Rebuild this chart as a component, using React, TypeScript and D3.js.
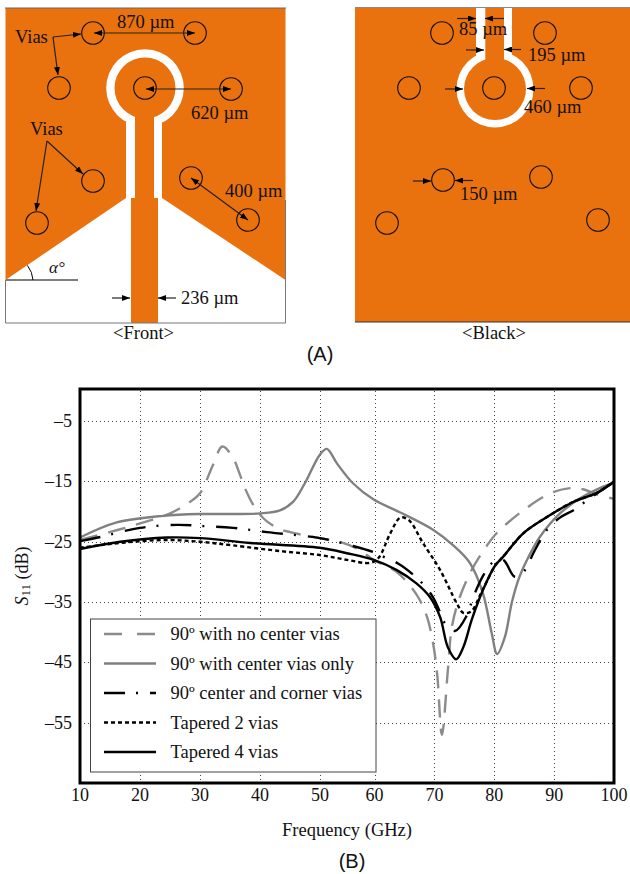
import React from "react";
import * as d3 from "d3";

const ORANGE = "#EA720E";
const SERIF = "'Liberation Serif', serif";
const SANS = "'Liberation Sans', sans-serif";

// ---- S11 data: [GHz, dB]
const noCenterVias: [number, number][] = [[10,-24.7],[15,-23.4],[20,-22],[25.2,-20.3],[28.5,-18.4],[30.2,-17],[32.4,-12.3],[34,-9.2],[35.8,-11.1],[37,-14],[37.8,-16.1],[39.2,-18.9],[40.9,-21.1],[43.2,-22.7],[45.4,-23.4],[50.4,-24.4],[53.8,-25],[57,-26.3],[59.5,-28],[63.4,-30],[65.1,-31.7],[67,-34.2],[68.5,-37.5],[69.5,-41.8],[70.2,-47],[71,-57],[72,-46.3],[72.7,-39],[74,-34.2],[76,-29.7],[78.6,-25.6],[80.4,-23.4],[84.7,-19.8],[89.2,-17],[92.6,-16.1],[94.8,-16.3],[97,-17.1],[100,-17.9]];
const centerViasOnly: [number, number][] = [[10,-24.3],[16.2,-21.8],[24,-20.7],[30.2,-20.4],[35.8,-20.4],[40.3,-20.3],[43.7,-19.8],[45.9,-18.4],[47.9,-15.3],[50.4,-10.6],[51.6,-9.6],[53.3,-12],[56,-15.3],[59.5,-18],[63.9,-20.1],[69.5,-23],[72.9,-25.6],[75.7,-28.5],[77.9,-33.5],[79.4,-40.2],[80.3,-43.6],[81.6,-40.8],[82.8,-35],[84,-31],[85.5,-27.7],[87.5,-24.2],[90.9,-20.3],[94.3,-17.8],[97.6,-16.1],[100,-15.3]];
const centerCornerVias: [number, number][] = [[10,-24.9],[13,-24.3],[20.1,-22.7],[26.3,-22.2],[30.8,-22.4],[35.8,-22.7],[41.5,-23.4],[50.4,-24.4],[56,-25.7],[59.4,-26.7],[61.4,-27.6],[63.6,-28.6],[66.1,-30.4],[67.8,-32],[69.5,-34.2],[70.7,-36.7],[71.5,-38.5],[73.2,-39.8],[75.2,-37.2],[76,-35],[76.9,-32.7],[78.2,-30.2],[79.6,-28.4],[81.3,-28],[83.3,-30.8],[85,-29.7],[86.4,-26.9],[88.7,-23],[90.9,-21],[93.1,-19.8],[95.1,-18.4],[97.1,-17],[100,-15.1]];
const tapered2: [number, number][] = [[10,-26],[14,-25.5],[19,-25],[24.7,-24.7],[30.2,-25],[35.8,-25.6],[44.2,-26.6],[50.4,-27.2],[55,-28],[58.9,-28.5],[60.3,-27.7],[62.3,-23.6],[64,-21],[65.4,-21.4],[67.8,-25.2],[70.7,-29.7],[73.5,-35.2],[74.6,-36.8],[76,-36.5],[77.4,-33.9],[78.5,-31.7],[80,-28.9],[81.3,-27.5],[84.7,-23.6],[88.7,-20.9],[93.1,-18.4],[97.1,-16.9],[100,-15]];
const tapered4: [number, number][] = [[10,-26.2],[16.8,-25],[24.7,-24.3],[30.2,-24.4],[38.7,-25.2],[50.4,-26],[55,-26.9],[59.5,-28],[63.4,-29.7],[66.7,-31.9],[69,-34.2],[70.7,-37.5],[72,-42.5],[73.4,-44.5],[74.6,-42.5],[76,-38],[77.4,-34.2],[78.5,-31.7],[80,-28.9],[81.3,-27.5],[84.7,-23.6],[88.7,-20.9],[93.1,-18.4],[97.1,-16.9],[100,-15]];

const seriesLabels = ["90º with no center vias","90º with center vias only","90º center and corner vias","Tapered 2 vias","Tapered 4 vias"];
const seriesValues = [noCenterVias, centerViasOnly, centerCornerVias, tapered2, tapered4];
const seriesColors = ["#8c8c8c","#808080","#000000","#000000","#000000"];
const seriesDash = ["18 11",undefined,"21 11 2 12","4 3",undefined];
const legendDash = ["18 15",undefined,"21 11 2 12","4 3",undefined];
const seriesDraw = [0,1,2,3,4];

const xTicks = [10,20,30,40,50,60,70,80,90,100];
const yTicks = [-5,-15,-25,-35,-45,-55];
const xGrid = [20,30,40,50,60,70,80,90];

// ---- Diagram contents
const frontVias = [[93,33],[195,33],[59,88],[145,88],[231,89],[93,181],[37,223],[191,178],[248,220]];
const backVias = [[442,33],[545,33],[409,88],[494,88],[581,88],[443,180],[541,177],[387,223],[598,220]];
const labels: [string, number, number][] = [
  ["870 µm",117,28],["Vias",15,43],["620 µm",191,119],["Vias",30,135],["400 µm",225,197],["236 µm",181,304],["<Front>",113,339],
  ["85 µm",459,35],["195 µm",528,61],["460 µm",524,113],["150 µm",460,200],["<Black>",462,339],
];
const oneWay = [[53,37,81,34],[53,37,58,75],[47,141,83,174],[47,141,36,211],[112,298,130,298],[176,298,158,298],
  [457,18.5,476,18.5],[504,18.5,485,18.5],[466,50,484,50],[521,49.5,504,49.5],[445,89,463,89],[545,88.5,527,88.5],[413,181,431,181],[473,180.5,455,180.5]];
const twoWay = [[94,33,195,33],[146,89,231,89],[191,178,248,220]];

export default function App() {
  const x = d3.scaleLinear().domain([10,100]).range([80,614]);
  const xAxis = d3.scaleLinear().domain([10,50,60,100]).range([80,320,374.5,614]);
  const y = d3.scaleLinear().domain([-65,0.33]).range([783,389]);
  const line = d3.line<[number,number]>().x(d=>x(d[0])).y(d=>y(d[1])).curve(d3.curveCatmullRom.alpha(0.5));

  return (
    <svg width={630} height={874} style={{position:"absolute",left:0,top:0}} fontFamily={SERIF} fill="#111">
      <defs>
        <marker id="arr" viewBox="0 0 8 6" refX="8" refY="3" markerWidth="8" markerHeight="6" markerUnits="userSpaceOnUse" orient="auto-start-reverse">
          <path d="M0,0L8,3L0,6Z" fill="#000"/>
        </marker>
      </defs>

      {/* Front */}
      <rect x={5.5} y={8} width={280} height={315} fill={ORANGE}/>
      <path d="M5.5,280L126,198L162,198L285.5,280L285.5,323L5.5,323Z" fill="#fff"/>
      <circle cx={145} cy={88} r={38.8} fill="#fff"/>
      <circle cx={145} cy={88} r={30.5} fill={ORANGE}/>
      <rect x={126} y={122} width={36} height={76} fill="#fff"/>
      <rect x={135} y={100} width={19} height={98} fill={ORANGE}/>
      <rect x={131} y={198} width={27} height={125} fill={ORANGE}/>
      <path d="M5.5,280V323H285.5V200" fill="none" stroke="#777" strokeWidth={1}/>
      <line x1={5} y1={8} x2={286} y2={8} stroke="#666" strokeWidth={1}/>
      <line x1={6} y1={280} x2={78} y2={280} stroke="#000" strokeWidth={1.2}/>
      <path d="M27.5,265.5A27,27 0 0 1 33,280" fill="none" stroke="#000" strokeWidth={1}/>
      <text x={49} y={273} fontSize={17} fontStyle="italic">α°</text>

      {/* Back */}
      <rect x={355} y={8} width={275} height={314} fill={ORANGE}/>
      <line x1={355} y1={322} x2={630} y2={322} stroke="#333" strokeWidth={1}/>
      <line x1={355} y1={7.5} x2={630} y2={7.5} stroke="#888" strokeWidth={1}/>
      <circle cx={495} cy={89} r={38.5} fill="#fff"/>
      <circle cx={495} cy={89} r={31} fill={ORANGE}/>
      <rect x={476} y={8} width={36} height={50} fill="#fff"/>
      <rect x={485.3} y={8} width={18.7} height={65} fill={ORANGE}/>

      {[...frontVias,...backVias].map(([cx,cy],i)=>(
        <circle key={i} cx={cx} cy={cy} r={11.3} fill="none" stroke="#111" strokeWidth={1.1}/>
      ))}
      {oneWay.map(([a,b,c,d],i)=>(
        <line key={i} x1={a} y1={b} x2={c} y2={d} stroke="#222" strokeWidth={1.2} markerEnd="url(#arr)"/>
      ))}
      {twoWay.map(([a,b,c,d],i)=>(
        <line key={i} x1={a} y1={b} x2={c} y2={d} stroke="#222" strokeWidth={1.2} markerEnd="url(#arr)" markerStart="url(#arr)"/>
      ))}
      {labels.map(([t,a,b],i)=>(
        <text key={i} x={a} y={b} fontSize={18.5}>{t}</text>
      ))}
      <text x={320} y={361} fontSize={20} fontFamily={SANS} textAnchor="middle">(A)</text>

      {/* Chart */}
      {xGrid.map(t=>(
        <line key={t} x1={Math.round(xAxis(t))+0.5} x2={Math.round(xAxis(t))+0.5} y1={391} y2={782} stroke="#444" strokeWidth={1} strokeDasharray="1 3" shapeRendering="crispEdges"/>
      ))}
      {yTicks.map(t=>(
        <line key={t} x1={84} x2={613} y1={Math.round(y(t))+0.5} y2={Math.round(y(t))+0.5} stroke="#444" strokeWidth={1} strokeDasharray="1 3" shapeRendering="crispEdges"/>
      ))}
      {seriesDraw.map(i=>(
        <path key={i} d={line(seriesValues[i])||""} fill="none" stroke={seriesColors[i]} strokeWidth={2.4} strokeDasharray={seriesDash[i]}/>
      ))}
      <rect x={80} y={389} width={534} height={394} fill="none" stroke="#000" strokeWidth={3}/>
      {xTicks.map(t=>(
        <text key={t} x={xAxis(t)} y={801} fontSize={18} textAnchor="middle">{t}</text>
      ))}
      {yTicks.map(t=>(
        <text key={t} x={72} y={y(t)+6} fontSize={18} textAnchor="end">{"–"+Math.abs(t)}</text>
      ))}
      <text x={347} y={836} fontSize={18.5} textAnchor="middle">Frequency (GHz)</text>
      <text transform="translate(28,576) rotate(-90)" fontSize={18} textAnchor="middle">
        <tspan fontStyle="italic">S</tspan><tspan fontSize={13} dy={2}>11</tspan><tspan dy={-2}> (dB)</tspan>
      </text>
      <text x={352} y={868} fontSize={20} fontFamily={SANS} textAnchor="middle">(B)</text>

      {/* Legend */}
      <rect x={90.5} y={619} width={285.5} height={153} fill="#fff" stroke="#444" strokeWidth={1}/>
      {seriesLabels.map((t,i)=>{
        const ly = d3.scaleLinear().domain([0,4]).range([634,752])(i);
        return (
          <g key={t}>
            <line x1={104} x2={156} y1={ly} y2={ly} stroke={seriesColors[i]} strokeWidth={2.4} strokeDasharray={legendDash[i]}/>
            <text x={170.5} y={ly+6} fontSize={18.5}>{t}</text>
          </g>
        );
      })}
    </svg>
  );
}
